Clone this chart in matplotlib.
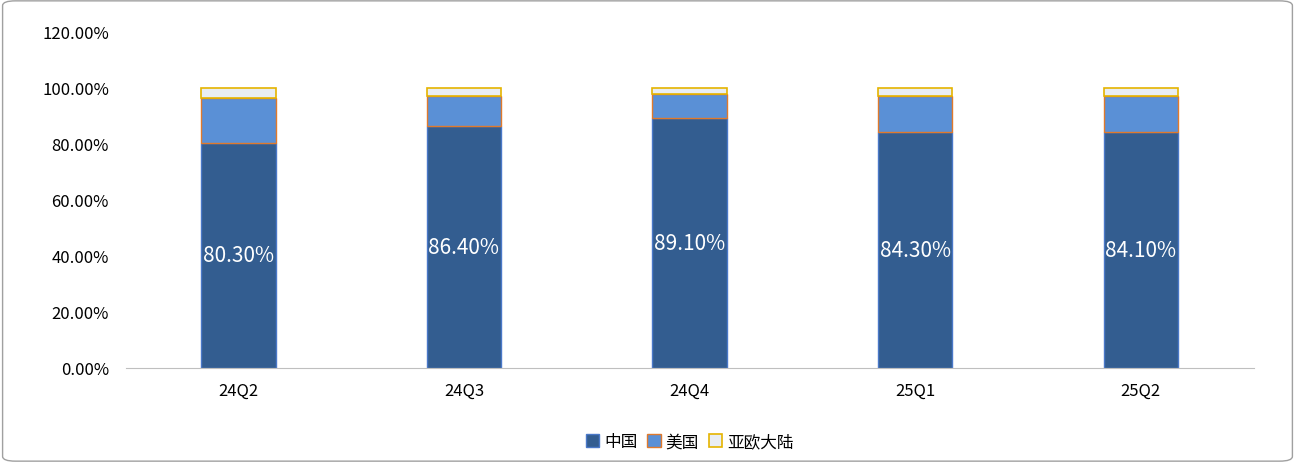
import matplotlib
matplotlib.use('Agg')
import matplotlib.pyplot as plt
from matplotlib.patches import FancyBboxPatch

plt.rcParams['font.family'] = ['Noto Sans CJK SC', 'DejaVu Sans']

quarters = ['24Q2', '24Q3', '24Q4', '25Q1', '25Q2']
china = [80.3, 86.4, 89.1, 84.3, 84.1]
usa = [15.8, 10.7, 8.7, 12.8, 13.0]
asia_europe = [3.9, 2.9, 2.2, 2.9, 2.9]

fig = plt.figure(figsize=(12.95, 4.64), dpi=100)
ax = fig.add_axes([0.097, 0.205, 0.871, 0.725])

x = range(len(quarters))
w = 0.33
ax.bar(x, china, w, color='#335d90', edgecolor='#4a78c8', linewidth=1, label='中国')
ax.bar(x, usa, w, bottom=china, color='#5a90d6', edgecolor='#e07a2c', linewidth=1, label='美国')
bottom2 = [c + u for c, u in zip(china, usa)]
ax.bar(x, asia_europe, w, bottom=bottom2, color='#e9edf3', edgecolor='#e5b400', linewidth=1.2, label='亚欧大陆')

for i, v in enumerate(china):
    ax.text(i, v / 2, f'{v:.2f}%', ha='center', va='center', color='white', fontsize=15)

ax.set_ylim(0, 120)
ax.set_yticks(range(0, 121, 20))
ax.set_yticklabels([f'{t:.2f}%' for t in range(0, 121, 20)], fontsize=12)
ax.set_xticks(list(x))
ax.set_xticklabels(quarters, fontsize=12)
ax.set_xlim(-0.5, len(quarters) - 0.5)
for s in ['top', 'right', 'left']:
    ax.spines[s].set_visible(False)
ax.spines['bottom'].set_color('#bfbfbf')
ax.tick_params(axis='y', length=0, pad=12)
ax.tick_params(axis='x', length=0, pad=10)

ax.legend(loc='upper center', bbox_to_anchor=(0.5, -0.15), ncol=3, frameon=False,
          fontsize=12, handlelength=0.8, handleheight=0.8, columnspacing=0.6, handletextpad=0.3)

fig.patches.append(FancyBboxPatch((0.002, 0.004), 0.996, 0.992, boxstyle='round,pad=0,rounding_size=0.01',
                                  transform=fig.transFigure, fill=False, edgecolor='#a0a0a0', linewidth=1))

fig.savefig('out.png', dpi=100)
